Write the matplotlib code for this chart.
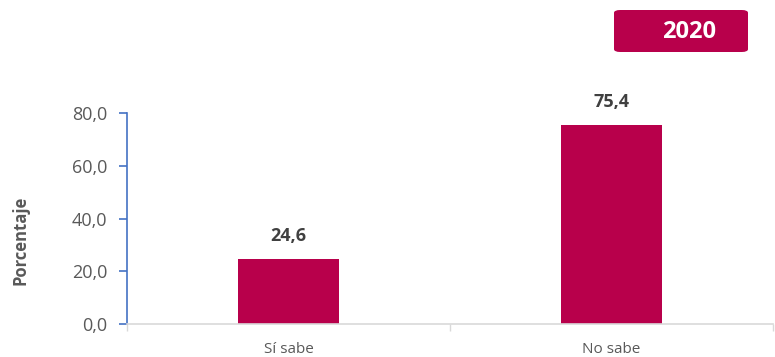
import matplotlib
matplotlib.use("Agg")
import matplotlib.pyplot as plt
from matplotlib.patches import FancyBboxPatch

categories = ["Sí sabe", "No sabe"]
values = [24.6, 75.4]
value_labels = ["24,6", "75,4"]
yticks = [0, 20, 40, 60, 80]
ytick_labels = ["0,0", "20,0", "40,0", "60,0", "80,0"]
year = "2020"

plt.rcParams['font.family'] = ['Open Sans', 'DejaVu Sans']
bar_color = '#B8004B'
gray = '#595959'

fig = plt.figure(figsize=(7.75, 3.57), dpi=100)
ax = fig.add_axes([127/775, 1-324/357, (773-127)/775, (324-113)/357])

x = list(range(len(categories)))
bars = ax.bar(x, values, width=0.31, color=bar_color, zorder=2)
for xi, v, lab in zip(x, values, value_labels):
    ax.annotate(lab, (xi, v), xytext=(0, 10), textcoords='offset points',
                ha='center', va='bottom', fontsize=13, fontweight='bold',
                color='#404040', clip_on=False)

ax.set_xlim(-0.5, len(categories) - 0.5)
ax.set_ylim(0, 80)
ax.set_yticks(yticks)
ax.set_yticklabels(ytick_labels, fontsize=13, color=gray)
ax.set_xticks(x)
ax.set_xticklabels(categories, fontsize=11, color=gray)
ax.tick_params(axis='x', which='major', length=0, pad=13)
ax.set_xticks([-0.5, 0.5, 1.5], minor=True)
ax.tick_params(axis='x', which='minor', length=5, color='#D9D9D9', width=1)
ax.tick_params(axis='y', length=6, color='#4472C4', width=1.2, pad=8)

for s in ['top', 'right']:
    ax.spines[s].set_visible(False)
ax.spines['left'].set_color('#4472C4')
ax.spines['left'].set_linewidth(1.2)
ax.spines['bottom'].set_color('#D9D9D9')
ax.spines['bottom'].set_linewidth(1.2)

fig.text(21/775, 1-240/357, "Porcentaje", rotation=90, ha='center', va='center',
         fontsize=12, fontweight='bold', color=gray)

box = FancyBboxPatch((614/775, 1-52/357), (748-614)/775, (52-10)/357,
                     boxstyle="round,pad=0,rounding_size=0.008",
                     transform=fig.transFigure, facecolor=bar_color,
                     edgecolor='none')
fig.patches.append(box)
fig.text(689/775, 1-32/357, year, ha='center', va='center', fontsize=17,
         fontweight='bold', color='white')

fig.savefig("out.png", dpi=100)
